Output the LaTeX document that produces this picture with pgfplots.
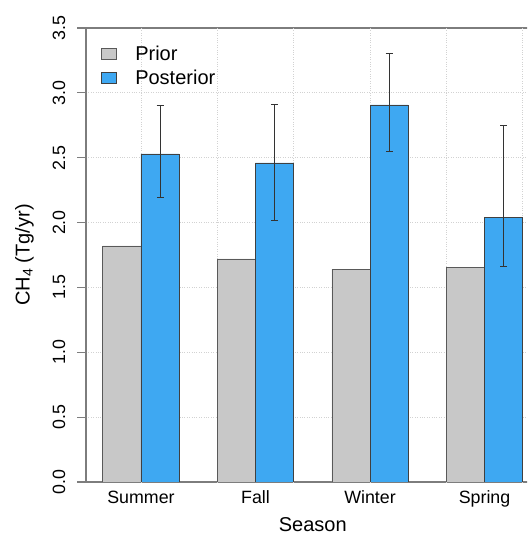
\documentclass[border=0pt]{standalone}
\usepackage{pgfplots}
\pgfplotsset{compat=1.18}
\usepackage{fontspec}
\setmainfont{Liberation Sans}
\definecolor{priorgray}{RGB}{200,200,200}
\definecolor{postblue}{RGB}{62,168,242}
\definecolor{boxgray}{RGB}{125,125,125}
\definecolor{gridgray}{RGB}{210,210,210}
\begin{document}
\begin{tikzpicture}
\path[use as bounding box, clip] (0,0) rectangle (527pt,534pt);
\begin{axis}[
  at={(86pt,52pt)}, anchor=south west,
  scale only axis, width=453.5pt, height=454pt,
  xmin=0.56, xmax=12.44, ymin=0, ymax=3.5,
  axis line style={boxgray, line width=1.3pt},
  xtick={2,5,8,11}, xticklabels={Summer,Fall,Winter,Spring},
  ytick={0,0.5,1,1.5,2,2.5,3,3.5},
  yticklabels={0.0,0.5,1.0,1.5,2.0,2.5,3.0,3.5},
  tick align=outside, major tick length=8.7pt,
  xtick pos=bottom, ytick pos=left,
  x tick style={draw=none},
  y tick style={boxgray, line width=1.2pt},
  ticklabel style={font=\fontsize{17.8}{20}\selectfont},
  yticklabel style={rotate=90, anchor=base},
  yticklabel shift=12.3pt,
  xticklabel style={anchor=base},
  xticklabel shift=12.6pt,
  ymajorgrids=true,
  extra x ticks={2,4,6,8,10,12}, extra x tick labels={},
  extra x tick style={grid=major, x tick style={draw=none}},
  grid style={gridgray, dotted, line width=0.9pt},
  xlabel={Season}, ylabel={CH\textsubscript{4} (Tg/yr)},
  label style={font=\fontsize{20}{24}\selectfont, inner sep=0pt},
  x label style={at={(axis description cs:0.5,-0.1101)}, anchor=base},
  y label style={at={(axis description cs:-0.1244,0.5)}, anchor=base},
  legend style={at={(axis description cs:0.033,0.9655)}, anchor=north west, draw=none, fill=none,
    font=\fontsize{20}{24}\selectfont, inner sep=0pt, row sep=4.3pt,
    /tikz/every odd column/.append style={column sep=16.5pt}},
  legend cell align=left,
  legend image code/.code={\draw[#1] (0pt,-5.5pt) rectangle (15pt,5.5pt);},
]
\addplot[ybar, bar width=1, bar shift=0pt, fill=priorgray, draw=black!65, line width=0.6pt]
  coordinates {(1.5,1.82) (4.5,1.72) (7.5,1.642) (10.5,1.656)};
\addplot[ybar, bar width=1, bar shift=0pt, fill=postblue, draw=black!75, line width=0.6pt,
  error bars/.cd, y dir=both, y explicit, error mark=|,
  error bar style={black!80, line width=0.9pt},
  error mark options={black!80, mark size=3.5pt, line width=0.9pt}]
  coordinates {
    (2.5,2.53) += (0,0.374) -= (0,0.335)
    (5.5,2.46) += (0,0.447) -= (0,0.44)
    (8.5,2.907) += (0,0.393) -= (0,0.36)
    (11.5,2.04) += (0,0.705) -= (0,0.375)
  };
\legend{Prior,Posterior}
\end{axis}
\end{tikzpicture}
\end{document}
